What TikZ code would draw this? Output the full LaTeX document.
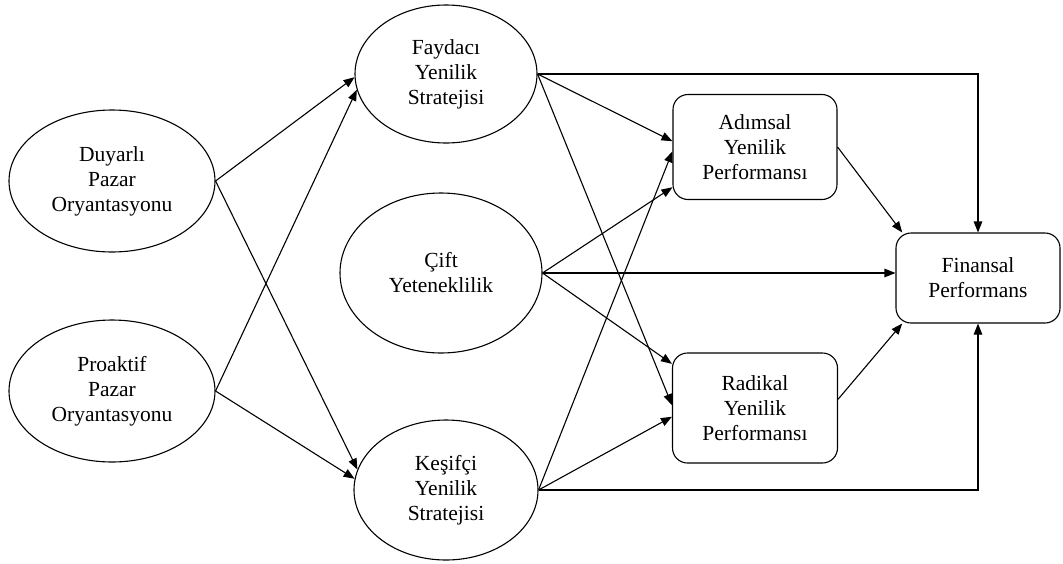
\documentclass[tikz,border=0pt]{standalone}
\usepackage{fontspec}
\setmainfont{Liberation Serif}
\usetikzlibrary{shapes.geometric,arrows.meta}
\tikzset{
  latent/.style={ellipse, draw, line width=1.1pt, inner sep=0pt, align=center,
    font=\fontsize{21.5}{25}\selectfont},
  perf/.style={rectangle, rounded corners=15pt, draw, line width=1.1pt, inner sep=0pt,
    align=center, font=\fontsize{21.5}{25}\selectfont},
  link/.style={-{Triangle[length=11pt,width=8.5pt]}, line width=1.1pt}
}
\begin{document}
\begin{tikzpicture}[x=1pt,y=-1pt]
  \useasboundingbox (0,0) rectangle (1063,563);

  % market orientation (left column)
  \node[latent, minimum width=206pt, minimum height=142pt] (duy) at (112,181) {Duyarlı\\Pazar\\Oryantasyonu};
  \node[latent, minimum width=206pt, minimum height=142pt] (pro) at (112,391) {Proaktif\\Pazar\\Oryantasyonu};

  % strategies (middle column)
  \node[latent, minimum width=182pt, minimum height=138pt] (fay) at (446,74) {Faydacı\\Yenilik\\Stratejisi};
  \node[latent, minimum width=202pt, minimum height=160pt] (cif) at (441,273) {Çift\\Yeteneklilik};
  \node[latent, minimum width=184pt, minimum height=140pt] (kes) at (446,490) {Keşifçi\\Yenilik\\Stratejisi};

  % performance boxes
  \node[perf, minimum width=164pt, minimum height=105pt] (adi) at (755,147) {Adımsal\\Yenilik\\Performansı};
  \node[perf, minimum width=165pt, minimum height=110pt] (rad) at (755,408) {Radikal\\Yenilik\\Performansı};
  \node[perf, minimum width=164pt, minimum height=90pt] (fin) at (978,278) {Finansal\\Performans};

  % straight paths
  \foreach \s/\t in {duy.east/fay.182, pro.east/fay.190, duy.east/kes.167, pro.east/kes.173,
                     fay.east/adi.176, fay.east/rad.178, cif.east/adi.206, cif.east/rad.152,
                     kes.east/adi.183, kes.east/rad.186, adi.east/fin.149, rad.6/fin.211} {
    \draw[link] (\s) -- (\t);
  }

  % direct paths to financial performance
  \draw[link] (cif.east) -- (cif.east -| fin.west);
  \draw[link] (fay.east) -| (fin.north);
  \draw[link] (kes.east) -| (fin.south);
\end{tikzpicture}
\end{document}
